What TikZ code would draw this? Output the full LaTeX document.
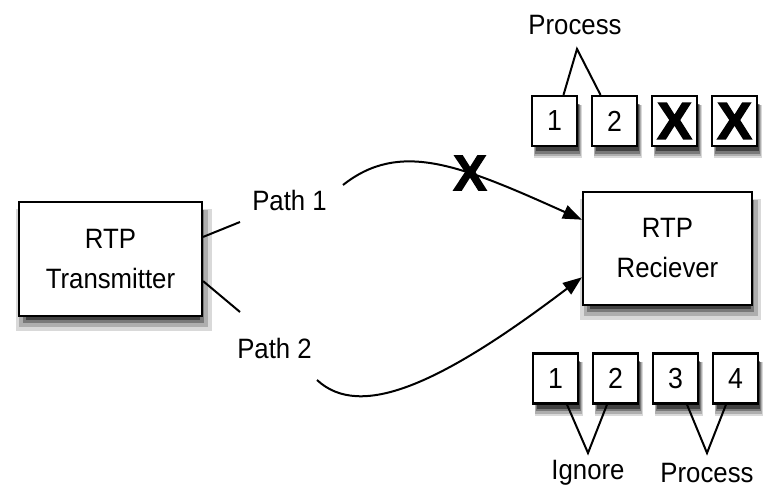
\documentclass[tikz,border=0pt]{standalone}
\usepackage{fontspec}
\setmainfont[FakeStretch=0.92]{Liberation Sans}
\newfontfamily\xfont[FakeBold=2.5]{Liberation Sans Bold}
\usetikzlibrary{arrows.meta,shadows,calc}
\begin{document}
\begin{tikzpicture}[x=1pt,y=-1pt,
  shad/.style={
    drop shadow={shadow xshift=3pt,shadow yshift=-10pt,opacity=.15,fill=black,shadow scale=1.07},
    drop shadow={shadow xshift=3pt,shadow yshift=-9pt,opacity=.2,fill=black,shadow scale=1.03},
    drop shadow={shadow xshift=3pt,shadow yshift=-8pt,opacity=.3,fill=black,shadow scale=.99},
    drop shadow={shadow xshift=3pt,shadow yshift=-7pt,opacity=.45,fill=black,shadow scale=.95}},
  bigbox/.style={draw,line width=2.2pt,fill=white,shad,align=center,inner sep=0pt,
    font=\fontsize{28}{40}\selectfont},
  sq/.style={draw,line width=2.2pt,fill=white,shad,inner sep=0pt,
    minimum width=45pt,minimum height=50pt,font=\fontsize{29}{30}\selectfont},
  xsq/.style={sq,font=\xfont\fontsize{52}{52}\selectfont},
  lbl/.style={font=\fontsize{28}{30}\selectfont,inner sep=0pt},
  conn/.style={line width=2pt},
  arr/.style={conn,-{Triangle[length=19pt,width=14pt]}}
]
\useasboundingbox (0,0) rectangle (767,495);

% main boxes
\node[bigbox,minimum width=183pt,minimum height=114pt] (tx) at (110.5,259) {RTP\\Transmitter};
\node[bigbox,minimum width=169pt,minimum height=113pt] (rx) at (667.5,248.5) {RTP\\Reciever};

% path labels
\node[lbl] (p1) at (289.5,200) {Path 1};
\node[lbl] (p2) at (274.5,348) {Path 2};

% short lines from transmitter
\coordinate (p1a) at (240,222);
\coordinate (p2a) at (240,312);
\draw[conn] ($(tx.north east)!0.31!(tx.south east)$) -- (p1a);
\draw[conn] ($(tx.north east)!0.69!(tx.south east)$) -- (p2a);

% curved paths
\coordinate (p1s) at (343,185);
\coordinate (p2s) at (317,380);
\draw[arr] (p1s) .. controls (400,140) and (460,165) .. ($(rx.north west)!0.25!(rx.south west)$);
\draw[arr] (p2s) .. controls (360,420) and (440,385) .. ($(rx.north west)!0.75!(rx.south west)$);

% lost packet mark
\node[inner sep=0pt,font=\xfont\fontsize{50}{50}\selectfont] (xm) at (470,173) {X};

% top squares
\node[sq] (t1) at (554.5,121) {1};
\node[sq] (t2) at (614.5,121) {2};
\node[xsq] (t3) at (674.5,121) {X};
\node[xsq] (t4) at (734.5,121) {X};
\node[lbl] (tp) at (575,25) {Process};
\coordinate (tv) at (577,49);
\draw[conn] ($(t1.north)+(9,0)$) -- (tv) -- ($(t2.north)+(-14,0)$);

% bottom squares
\node[sq] (b1) at (555.5,378.5) {1};
\node[sq] (b2) at (615.5,378.5) {2};
\node[sq] (b3) at (675.5,378.5) {3};
\node[sq] (b4) at (735.5,378.5) {4};
\node[lbl] (bi) at (588,473) {Ignore};
\node[lbl] (bp) at (707,473) {Process};
\coordinate (bv1) at (588,453);
\coordinate (bv2) at (707,453);
\draw[conn] ($(b1.south)+(11.5,0)$) -- (bv1) -- ($(b2.south)+(-8.5,0)$);
\draw[conn] ($(b3.south)+(11.5,0)$) -- (bv2) -- ($(b4.south)+(-9.5,0)$);
\end{tikzpicture}
\end{document}
